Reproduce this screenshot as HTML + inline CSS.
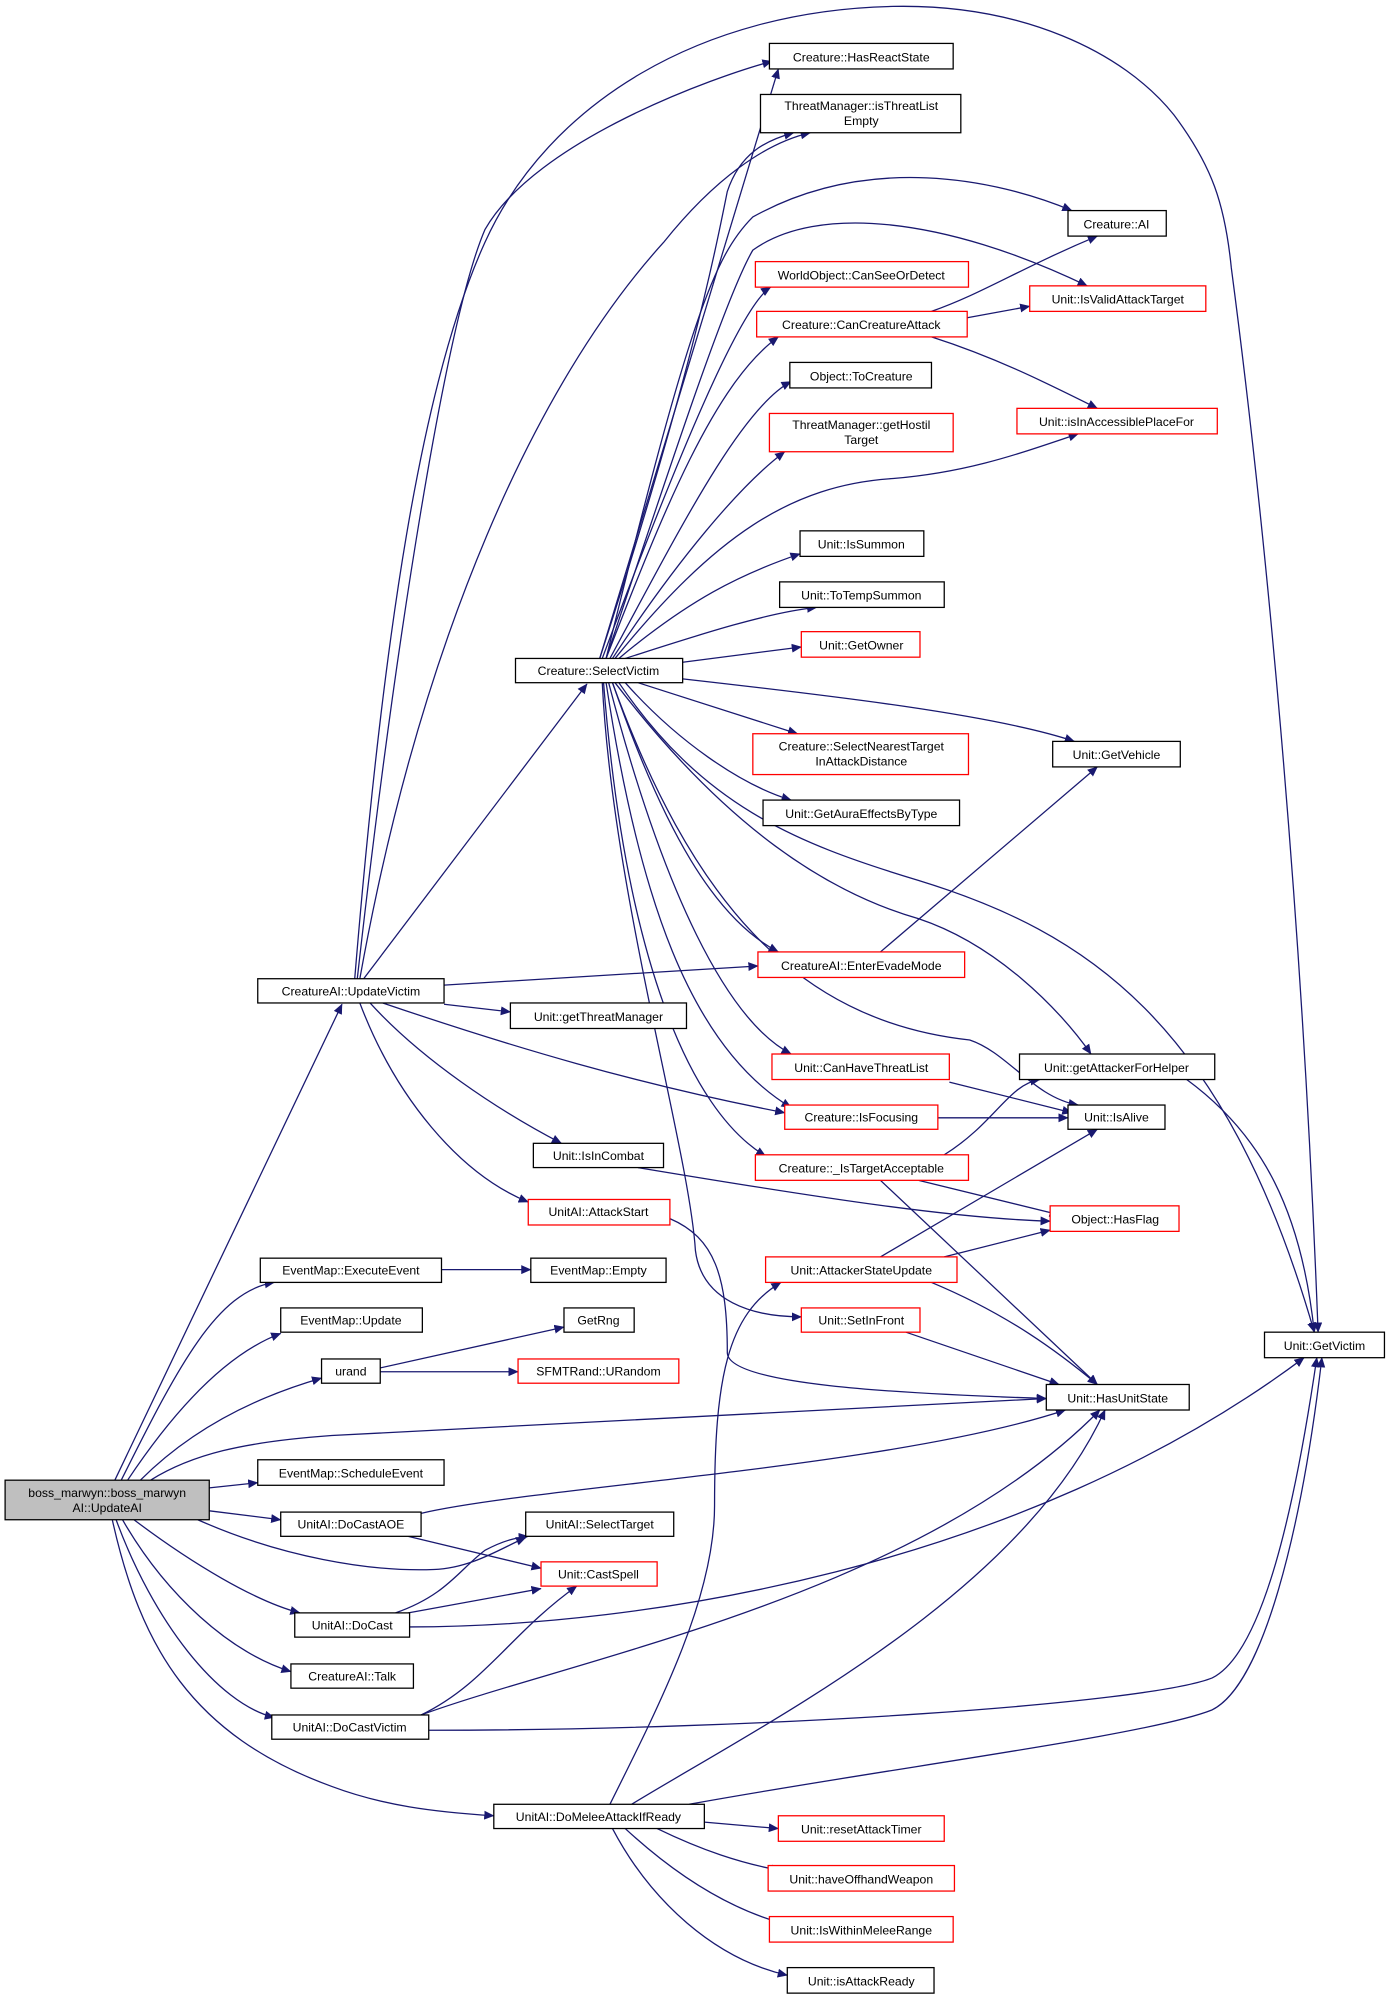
<!DOCTYPE html>
<html><head><meta charset="utf-8"><style>html,body{margin:0;padding:0;background:#fff}svg{display:block}</style></head><body>
<svg width="1387" height="1997" viewBox="0 0 1087 1565" xmlns="http://www.w3.org/2000/svg" font-family="Liberation Sans, sans-serif" font-size="9.6">
<defs><marker id="a" markerWidth="8" markerHeight="7" refX="7.5" refY="3.5" orient="auto" markerUnits="userSpaceOnUse"><path d="M0,0 L8,3.5 L0,7 z" fill="#191970"/></marker></defs>
<g fill="none" stroke="#191970" stroke-width="1" marker-end="url(#a)">
<path d="M90,1160 L268,787"/>
<path d="M95,1160 C140,1070 170,1012 215,1005"/>
<path d="M100,1160 C140,1100 180,1060 220,1045"/>
<path d="M110,1160 C150,1120 200,1095 252,1080"/>
<path d="M118,1160 C150,1140 190,1130 260,1125 L820,1096"/>
<path d="M164,1166 L202,1162"/>
<path d="M164,1184 L220,1191"/>
<path d="M155,1191 C220,1220 290,1232 340,1230 C370,1229 395,1212 412,1205"/>
<path d="M105,1191 C150,1225 200,1255 235,1264"/>
<path d="M96,1191 C130,1250 180,1295 228,1310"/>
<path d="M91,1191 C120,1270 170,1335 215,1346"/>
<path d="M88,1191 C110,1290 150,1360 260,1400 C300,1415 340,1420 387,1423"/>
<path d="M330,1186 C420,1165 700,1150 835,1105"/>
<path d="M320,1204 L424,1229"/>
<path d="M310,1264 C350,1250 360,1230 380,1215 C395,1207 405,1205 414,1204"/>
<path d="M320,1264 L424,1245"/>
<path d="M321,1275 C500,1275 800,1230 1022,1064"/>
<path d="M330,1344 C380,1320 400,1280 452,1243"/>
<path d="M330,1344 C450,1300 720,1250 862,1105"/>
<path d="M336,1356 C600,1356 900,1335 950,1315 C990,1295 1015,1180 1032,1064"/>
<path d="M478,1414 C520,1330 560,1250 560,1180 C560,1080 570,1030 612,1005"/>
<path d="M495,1414 C600,1350 800,1250 866,1105"/>
<path d="M540,1414 C700,1385 900,1360 950,1340 C990,1320 1020,1200 1036,1064"/>
<path d="M552,1428 L610,1433"/>
<path d="M515,1433 C550,1450 580,1460 612,1466"/>
<path d="M490,1433 C530,1470 570,1495 612,1507"/>
<path d="M480,1433 C510,1490 560,1535 617,1548"/>
<path d="M298,1072 L442,1040"/>
<path d="M298,1075 L406,1075"/>
<path d="M346,995 L416,995"/>
<path d="M285,767 L460,536"/>
<path d="M280,767 C310,500 350,250 380,180 C420,110 560,60 605,48"/>
<path d="M282,767 C330,500 420,300 520,190 C560,140 600,112 635,104"/>
<path d="M278,767 C300,500 330,300 380,190 C430,80 550,8 700,5 C800,3 880,40 920,90 C950,130 960,160 965,210 C990,400 1020,700 1033,1044"/>
<path d="M348,772 L594,757"/>
<path d="M348,787 L400,793"/>
<path d="M300,786 C400,820 500,850 615,872"/>
<path d="M290,786 C330,830 390,870 440,896"/>
<path d="M282,786 C310,860 360,920 414,942"/>
<path d="M470,516 L610,54"/>
<path d="M470,516 C540,300 560,200 570,150 C580,120 600,110 622,104"/>
<path d="M475,516 C540,250 560,200 590,170 C680,120 780,140 840,165"/>
<path d="M475,516 C530,350 570,230 590,196 C640,160 740,170 852,224"/>
<path d="M472,516 C530,360 580,240 604,225"/>
<path d="M475,516 C520,400 560,300 610,264"/>
<path d="M478,516 C530,420 580,320 620,299"/>
<path d="M480,516 C530,440 580,380 615,354"/>
<path d="M482,516 C560,420 620,380 700,375 C760,370 800,355 845,340"/>
<path d="M485,516 C540,470 580,450 627,434"/>
<path d="M490,516 C540,500 600,480 640,476"/>
<path d="M535,519 L628,507"/>
<path d="M535,532 C650,545 780,560 842,581"/>
<path d="M500,535 L625,575"/>
<path d="M490,535 C530,580 580,615 620,627"/>
<path d="M485,535 C550,630 620,660 720,690 C850,730 960,800 1030,1044"/>
<path d="M480,535 C520,650 560,720 610,746"/>
<path d="M482,535 C570,650 650,700 720,720 C780,740 830,790 855,826"/>
<path d="M480,535 C540,700 620,800 760,815 C790,825 810,860 845,866"/>
<path d="M477,535 C520,700 570,800 620,826"/>
<path d="M475,535 C500,700 540,820 620,868"/>
<path d="M473,535 C490,750 540,870 600,906"/>
<path d="M472,535 C480,700 540,900 545,980 C550,1020 590,1032 628,1032"/>
<path d="M730,244 C770,230 800,210 860,185"/>
<path d="M758,249 L807,240"/>
<path d="M730,264 C780,280 820,300 860,320"/>
<path d="M690,746 L860,601"/>
<path d="M744,848 L840,872"/>
<path d="M735,876 L837,876"/>
<path d="M740,905 C780,880 790,850 815,846"/>
<path d="M720,925 L830,952"/>
<path d="M690,925 L860,1085"/>
<path d="M500,915 C650,940 750,955 823,957"/>
<path d="M690,985 L860,885"/>
<path d="M740,985 L823,964"/>
<path d="M730,1005 C790,1030 830,1060 860,1085"/>
<path d="M710,1044 L830,1085"/>
<path d="M525,955 C560,970 570,1000 570,1060 C570,1085 700,1092 820,1096"/>
<path d="M930,846 C990,890 1020,950 1030,1044"/>
</g>
<g stroke-width="1">
<rect x="4" y="1160" width="160" height="31" fill="#bfbfbf" stroke="#000"/>
<text x="84" y="1173" text-anchor="middle">boss_marwyn::boss_marwyn</text><text x="84" y="1185" text-anchor="middle">AI::UpdateAI</text>
</g>
<g fill="#fff" stroke="#000">
<rect x="202" y="767" width="146" height="19"/><rect x="404" y="516" width="131" height="19"/>
<rect x="204" y="986" width="142" height="19"/><rect x="220" y="1025" width="111" height="19"/>
<rect x="252" y="1065" width="46" height="19"/><rect x="202" y="1144" width="146" height="20"/>
<rect x="220" y="1185" width="110" height="19"/><rect x="231" y="1264" width="90" height="19"/>
<rect x="228" y="1304" width="96" height="19"/><rect x="213" y="1344" width="123" height="19"/>
<rect x="387" y="1414" width="165" height="19"/><rect x="400" y="786" width="138" height="20"/>
<rect x="418" y="896" width="102" height="19"/><rect x="416" y="986" width="106" height="19"/>
<rect x="442" y="1025" width="55" height="19"/><rect x="412" y="1185" width="116" height="19"/>
<rect x="603" y="34" width="144" height="20"/><rect x="596" y="74" width="157" height="30"/>
<rect x="619" y="284" width="111" height="20"/><rect x="627" y="416" width="97" height="20"/>
<rect x="611" y="456" width="129" height="20"/><rect x="598" y="627" width="154" height="20"/>
<rect x="617" y="1542" width="115" height="20"/><rect x="837" y="165" width="77" height="20"/>
<rect x="825" y="581" width="100" height="20"/><rect x="799" y="826" width="153" height="20"/>
<rect x="837" y="866" width="76" height="19"/><rect x="820" y="1085" width="112" height="20"/>
<rect x="991" y="1044" width="94" height="20"/>
</g>
<g fill="#fff" stroke="#ff0000">
<rect x="414" y="940" width="111" height="20"/><rect x="406" y="1065" width="126" height="19"/>
<rect x="424" y="1224" width="91" height="19"/><rect x="592" y="205" width="167" height="20"/>
<rect x="593" y="244" width="165" height="20"/><rect x="603" y="324" width="144" height="30"/>
<rect x="628" y="495" width="93" height="20"/><rect x="590" y="575" width="169" height="32"/>
<rect x="594" y="746" width="162" height="20"/><rect x="605" y="826" width="139" height="20"/>
<rect x="615" y="866" width="120" height="19"/><rect x="592" y="905" width="167" height="20"/>
<rect x="600" y="985" width="150" height="20"/><rect x="628" y="1025" width="93" height="19"/>
<rect x="610" y="1423" width="130" height="20"/><rect x="602" y="1462" width="146" height="20"/>
<rect x="603" y="1502" width="144" height="20"/><rect x="807" y="224" width="138" height="20"/>
<rect x="797" y="320" width="157" height="20"/><rect x="823" y="945" width="101" height="20"/>
</g>
<g text-anchor="middle" fill="#000">
<text x="275" y="780">CreatureAI::UpdateVictim</text><text x="469" y="529">Creature::SelectVictim</text>
<text x="275" y="999">EventMap::ExecuteEvent</text><text x="275" y="1038">EventMap::Update</text>
<text x="275" y="1078">urand</text><text x="275" y="1158">EventMap::ScheduleEvent</text>
<text x="275" y="1198">UnitAI::DoCastAOE</text><text x="276" y="1277">UnitAI::DoCast</text>
<text x="276" y="1317">CreatureAI::Talk</text><text x="274" y="1357">UnitAI::DoCastVictim</text>
<text x="469" y="1427">UnitAI::DoMeleeAttackIfReady</text><text x="469" y="800">Unit::getThreatManager</text>
<text x="469" y="909">Unit::IsInCombat</text><text x="469" y="953">UnitAI::AttackStart</text>
<text x="469" y="999">EventMap::Empty</text><text x="469" y="1038">GetRng</text>
<text x="469" y="1078">SFMTRand::URandom</text><text x="470" y="1198">UnitAI::SelectTarget</text>
<text x="469" y="1237">Unit::CastSpell</text>
<text x="675" y="48">Creature::HasReactState</text>
<text x="675" y="86">ThreatManager::isThreatList</text><text x="675" y="98">Empty</text>
<text x="675" y="219">WorldObject::CanSeeOrDetect</text><text x="675" y="258">Creature::CanCreatureAttack</text>
<text x="675" y="298">Object::ToCreature</text>
<text x="675" y="336">ThreatManager::getHostil</text><text x="675" y="348">Target</text>
<text x="675" y="430">Unit::IsSummon</text><text x="675" y="470">Unit::ToTempSummon</text>
<text x="675" y="509">Unit::GetOwner</text>
<text x="675" y="588">Creature::SelectNearestTarget</text><text x="675" y="600">InAttackDistance</text>
<text x="675" y="641">Unit::GetAuraEffectsByType</text><text x="675" y="760">CreatureAI::EnterEvadeMode</text>
<text x="675" y="840">Unit::CanHaveThreatList</text><text x="675" y="879">Creature::IsFocusing</text>
<text x="675" y="919">Creature::_IsTargetAcceptable</text><text x="675" y="999">Unit::AttackerStateUpdate</text>
<text x="675" y="1038">Unit::SetInFront</text><text x="675" y="1437">Unit::resetAttackTimer</text>
<text x="675" y="1476">Unit::haveOffhandWeapon</text><text x="675" y="1516">Unit::IsWithinMeleeRange</text>
<text x="675" y="1556">Unit::isAttackReady</text>
<text x="875" y="179">Creature::AI</text><text x="876" y="238">Unit::IsValidAttackTarget</text>
<text x="875" y="334">Unit::isInAccessiblePlaceFor</text><text x="875" y="595">Unit::GetVehicle</text>
<text x="875" y="840">Unit::getAttackerForHelper</text><text x="875" y="879">Unit::IsAlive</text>
<text x="874" y="959">Object::HasFlag</text><text x="876" y="1099">Unit::HasUnitState</text>
<text x="1038" y="1058">Unit::GetVictim</text>
</g>
</svg>
</body></html>
